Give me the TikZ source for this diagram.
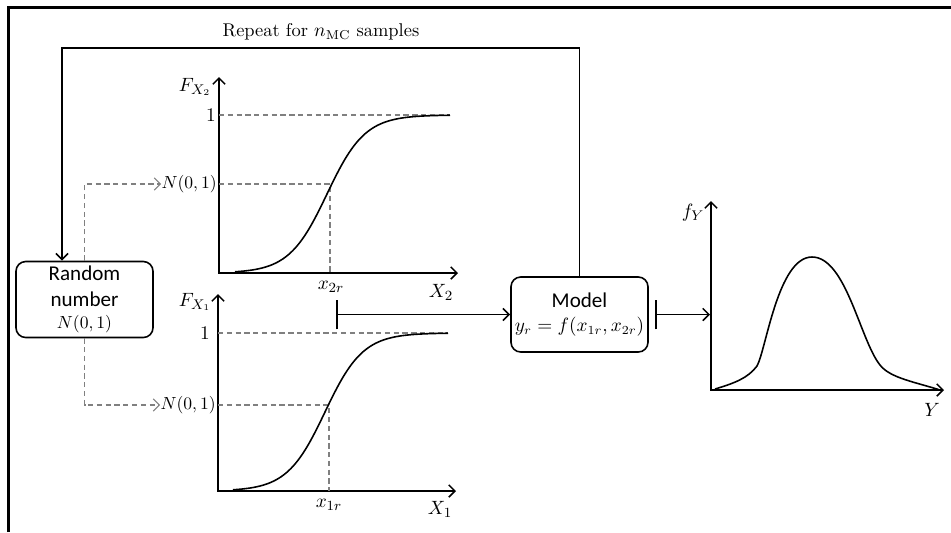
\documentclass[tikz,border=0pt]{standalone}
\usepackage{fontspec}
\newfontfamily\calib{Carlito}
\usetikzlibrary{arrows.meta}
\begin{document}
\begin{tikzpicture}[x=0.02cm,y=-0.02cm,
  >={Straight Barb[length=3.5pt,width=7pt]},
  line/.style={line width=0.9pt},
  gdash/.style={gray, line width=0.6pt, dash pattern=on 3pt off 2pt},
  box/.style={draw, line width=0.9pt, rounded corners=5.5pt, minimum width=2.74cm, minimum height=1.52cm, align=center, inner sep=0pt, font=\calib\fontsize{12}{14.5}\selectfont},
  lbl/.style={font=\fontsize{10}{12}\selectfont, inner sep=0pt},
  albl/.style={font=\fontsize{11}{13}\selectfont, inner sep=0pt},
  curve/.style={line width=0.9pt}
]
\useasboundingbox (0,0) rectangle (951,532);
% frame
\draw[line width=1.5pt] (8.5,532) -- (8.5,7.5) -- (951,7.5);

% boxes
\node[box] (rand) at (84.5,299.5) {Random\\number\\[-2pt]{\fontsize{10}{12}\selectfont $N(0,1)$}};
\node[box, minimum height=1.5cm] (model) at (579.5,314.5) {Model\\[-1pt]{\fontsize{10.5}{13}\selectfont $y_r=f(x_{1r},x_{2r})$}};

% feedback loop
\node[font=\fontsize{10.5}{12}\selectfont, inner sep=0pt] (rep) at (321,32) {Repeat for $n_{\mathrm{MC}}$ samples};
\coordinate (lr) at (579.5,48);
\coordinate (ll) at (62,48);
\draw[line,->] (model.north) -- (lr) -- (ll) -- (ll |- rand.north);

% top plot (X2)
\draw[line,<->] (219,77) -- (219,273) -- (458,273);
\draw[gdash] (219,115) -- (450,115);
\draw[gdash] (219,184) -- (330,184) -- (330,273);
\draw[curve] plot[domain=235:450, samples=90] (\x, {273-158/(1+exp(-(\x-327)/19))});
\node[lbl, anchor=east] (n2) at (217,184) {$N(0,1)$};
\node[albl, anchor=east] (one2) at (216,115) {$1$};
\node[albl] (F2) at (195,87) {$F_{X_2}$};
\node[albl] (x2r) at (331,287) {$x_{2r}$};
\node[albl] (X2) at (441,292) {$X_2$};

% bottom plot (X1)
\draw[line,<->] (218,294) -- (218,491) -- (456,491);
\draw[gdash] (218,333) -- (448,333);
\draw[gdash] (218,405) -- (329,405) -- (329,491);
\draw[curve] plot[domain=233:448, samples=90] (\x, {491-158/(1+exp(-(\x-325)/19))});
\node[lbl, anchor=east] (n1) at (216,405) {$N(0,1)$};
\node[albl, anchor=east] (one1) at (210,333) {$1$};
\node[albl] (F1) at (195,302) {$F_{X_1}$};
\node[albl] (x1r) at (329,505) {$x_{1r}$};
\node[albl] (X1) at (440,509) {$X_1$};

% dashed random-number arrows
\draw[gdash,->] (rand.north) |- (n2.west);
\draw[gdash,->] (rand.south) |- (n1.west);

% connectors
\coordinate (tA) at (336,314.5);
\draw[line,{Bar[width=17pt]}->] (tA) -- (model.west);
\coordinate (tB) at (655,314.5);
\coordinate (fin) at (710,314.5);
\draw[line,{Bar[width=17pt]}->] (tB) -- (fin);

% density plot
\draw[line,<->] (711,201) -- (711,390) -- (944,390);
\draw[curve] (715,389) .. controls (735,383) and (748,378) .. (757,366)
  .. controls (766,350) and (778,257) .. (812,257)
  .. controls (846,257) and (860,340) .. (880,365)
  .. controls (890,378) and (915,382) .. (940,390);
\node[albl] (fY) at (693,213) {$f_Y$};
\node[albl] (Ylab) at (932,410) {$Y$};
\end{tikzpicture}
\end{document}
